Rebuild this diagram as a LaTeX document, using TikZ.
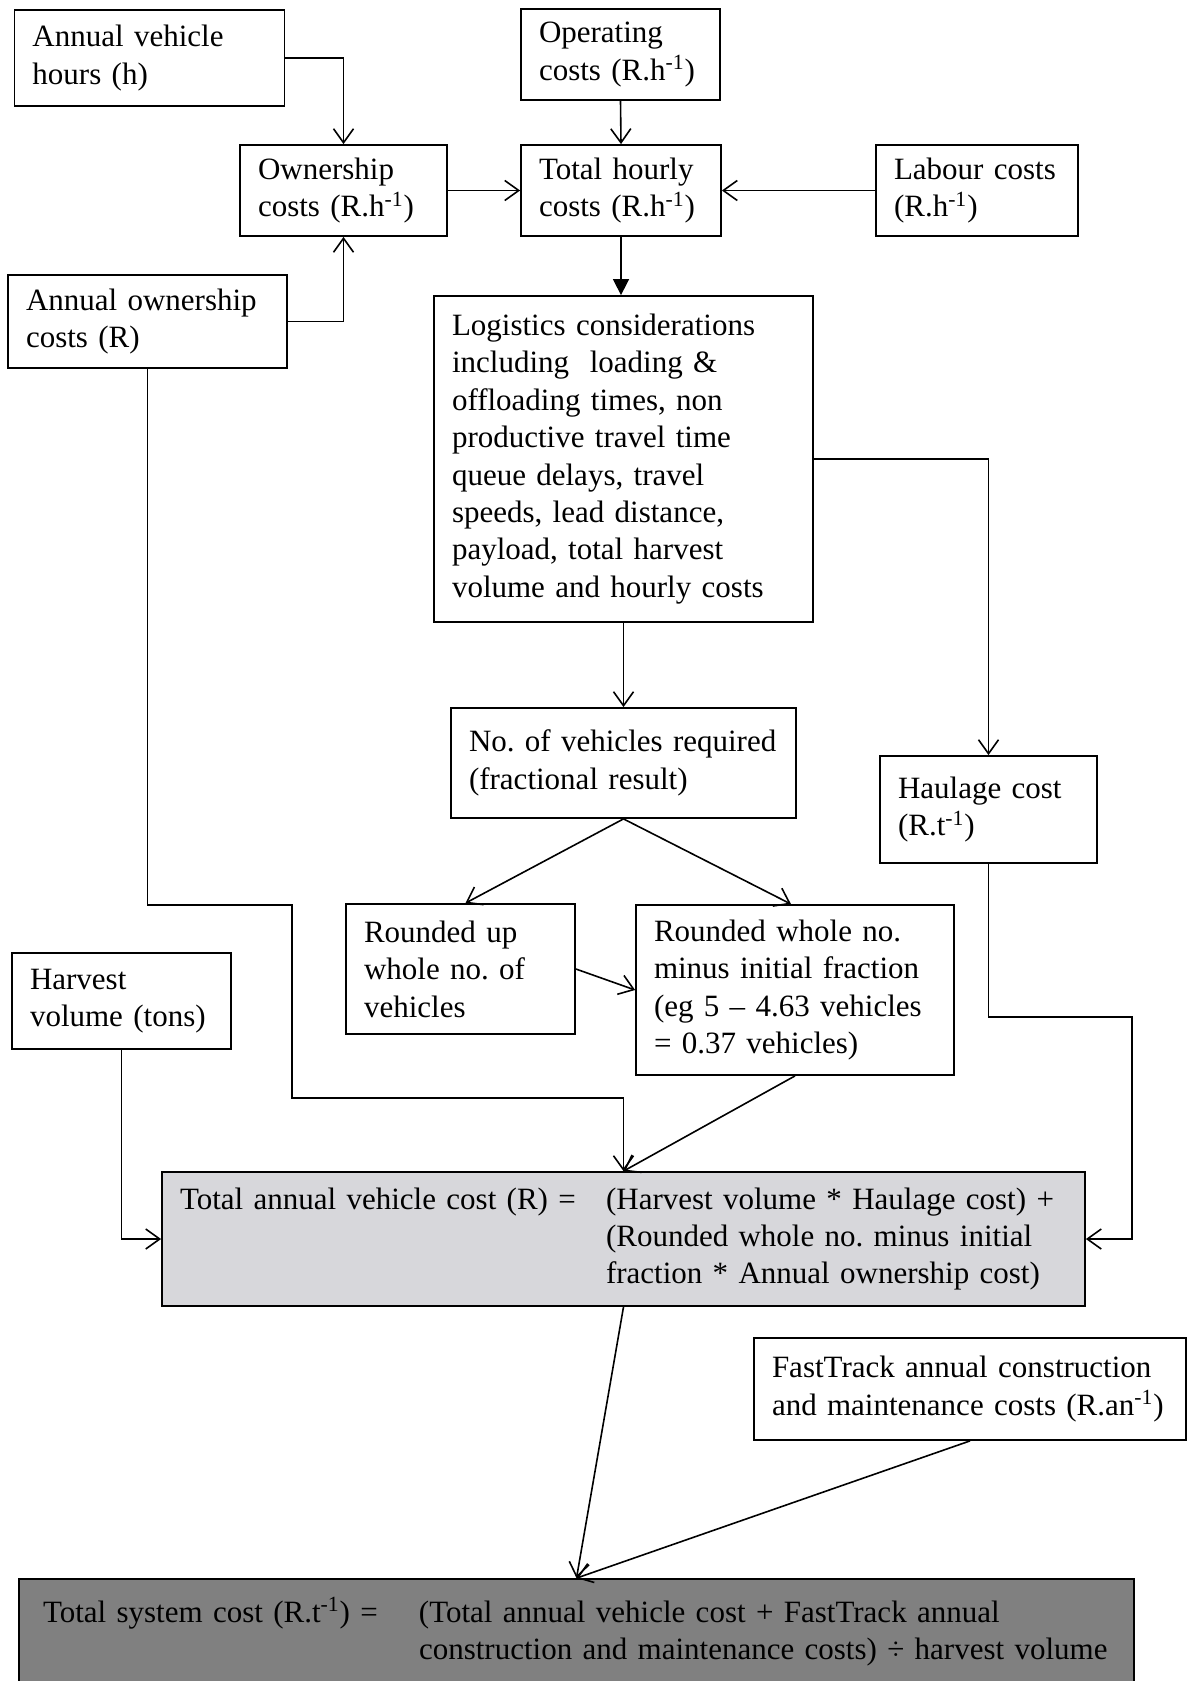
\documentclass[tikz,border=0pt]{standalone}
\usepackage{fontspec}
\setmainfont{Liberation Serif}
\usepackage{xcolor}
\usetikzlibrary{arrows.meta, positioning, calc}
\definecolor{lightfill}{RGB}{215,215,219}
\definecolor{darkfill}{RGB}{128,128,128}
\frenchspacing

\begin{document}
\begin{tikzpicture}[x=0.5pt, y=-0.5pt,
    every node/.style={font=\fontsize{15.5}{18.7}\selectfont},
    box/.style 2 args={draw, line width=0.9pt, inner xsep=9pt, inner ysep=0pt,
        align=left, text width=#1, minimum height=#2},
    link/.style={line width=0.8pt, -{Straight Barb[length=7pt, width=10pt]}},
    solidlink/.style={line width=0.8pt, -{Triangle[length=8pt, width=8pt]}}]
    \useasboundingbox (0,0) rectangle (1188,1681);

    % inputs to hourly costs
    \node[box={117pt}{48pt}] (vhours) at (149.5,58) {Annual vehicle\\hours (h)};
    \node[box={81.5pt}{45.5pt}] (opcost) at (620.5,54.5) {Operating\\costs (R.h\textsuperscript{-1})};
    \node[box={85.5pt}{45.5pt}] (owncost) at (343.5,190.5) {Ownership\\costs (R.h\textsuperscript{-1})};
    \node[box={82pt}{45.5pt}] (hourly) at (621,190.5) {Total hourly\\costs (R.h\textsuperscript{-1})};
    \node[box={83pt}{45.5pt}] (labour) at (977,190.5) {Labour costs\\(R.h\textsuperscript{-1})};
    \node[box={121.5pt}{46.5pt}] (annown) at (147.5,321.5) {Annual ownership\\costs (R)};

    % logistics and vehicle numbers
    \node[box={171.5pt}{163pt}] (logist) at (623.5,459) {Logistics considerations\\including\ \ loading \&\\offloading times, non\\productive travel time\\queue delays, travel\\speeds, lead distance,\\payload, total harvest\\volume and hourly costs};
    \node[box={154.5pt}{55pt}] (numveh) at (623.5,763) {No. of vehicles required\\(fractional result)};
    \node[box={90.5pt}{53.5pt}] (haul) at (988.5,809.5) {Haulage cost\\(R.t\textsuperscript{-1})};
    \node[box={96.5pt}{65pt}] (roundup) at (460.5,969) {Rounded up\\whole no. of\\vehicles};
    \node[box={141pt}{85pt}] (roundwhole) at (795,990) {Rounded whole no.\\minus initial fraction\\(eg 5 -- 4.63 vehicles\\= 0.37 vehicles)};
    \node[box={91.5pt}{48pt}] (harvest) at (121.5,1001) {Harvest\\volume (tons)};

    % totals
    \node[box={443.5pt}{67pt}, fill=lightfill] (annveh) at (623.5,1239)
        {\makebox[213pt][l]{Total annual vehicle cost (R) =}(Harvest volume * Haulage cost) +\\
         \hspace*{213pt}(Rounded whole no. minus initial\\
         \hspace*{213pt}fraction * Annual ownership cost)};
    \node[box={198pt}{51pt}] (fasttrack) at (970,1389) {FastTrack annual construction\\and maintenance costs (R.an\textsuperscript{-1})};
    \node[box={533.5pt}{53pt}, inner xsep=12pt, fill=darkfill] (syscost) at (576.5,1632)
        {\makebox[188pt][l]{Total system cost (R.t\textsuperscript{-1}) =}(Total annual vehicle cost + FastTrack annual\\
         \hspace*{188pt}construction and maintenance costs) ÷ harvest volume};

    % connectors
    \draw[link] (vhours.east) -| (owncost.north);
    \draw[link] (annown.east) -| (owncost.south);
    \draw[link] (opcost.south) -- (hourly.north);
    \draw[link] (owncost.east) -- (hourly.west);
    \draw[link] (labour.west) -- (hourly.east);
    \draw[solidlink] (hourly.south) -- (hourly.south |- logist.north);
    \draw[link] (logist.south) -- (numveh.north);
    \draw[link] (logist.east) -| (haul.north);
    \draw[link] (numveh.south) -- ($(roundup.north)+(5,0)$);
    \draw[link] (numveh.south) -- ($(roundwhole.north)+(-4,0)$);
    \draw[link] (roundup.east) -- (roundwhole.west);
    \draw[link] (roundwhole.south) -- (annveh.north);
    \draw[link] (annown.south) |- (292,905) |- (annveh.north |- 0,1098) -- (annveh.north);
    \draw[link] (harvest.south) |- (annveh.west);
    \draw[link] (haul.south) |- (1132,1017) |- (annveh.east);
    \draw[link] (annveh.south) -- (syscost.north);
    \draw[link] (fasttrack.south) -- (syscost.north);
\end{tikzpicture}
\end{document}
